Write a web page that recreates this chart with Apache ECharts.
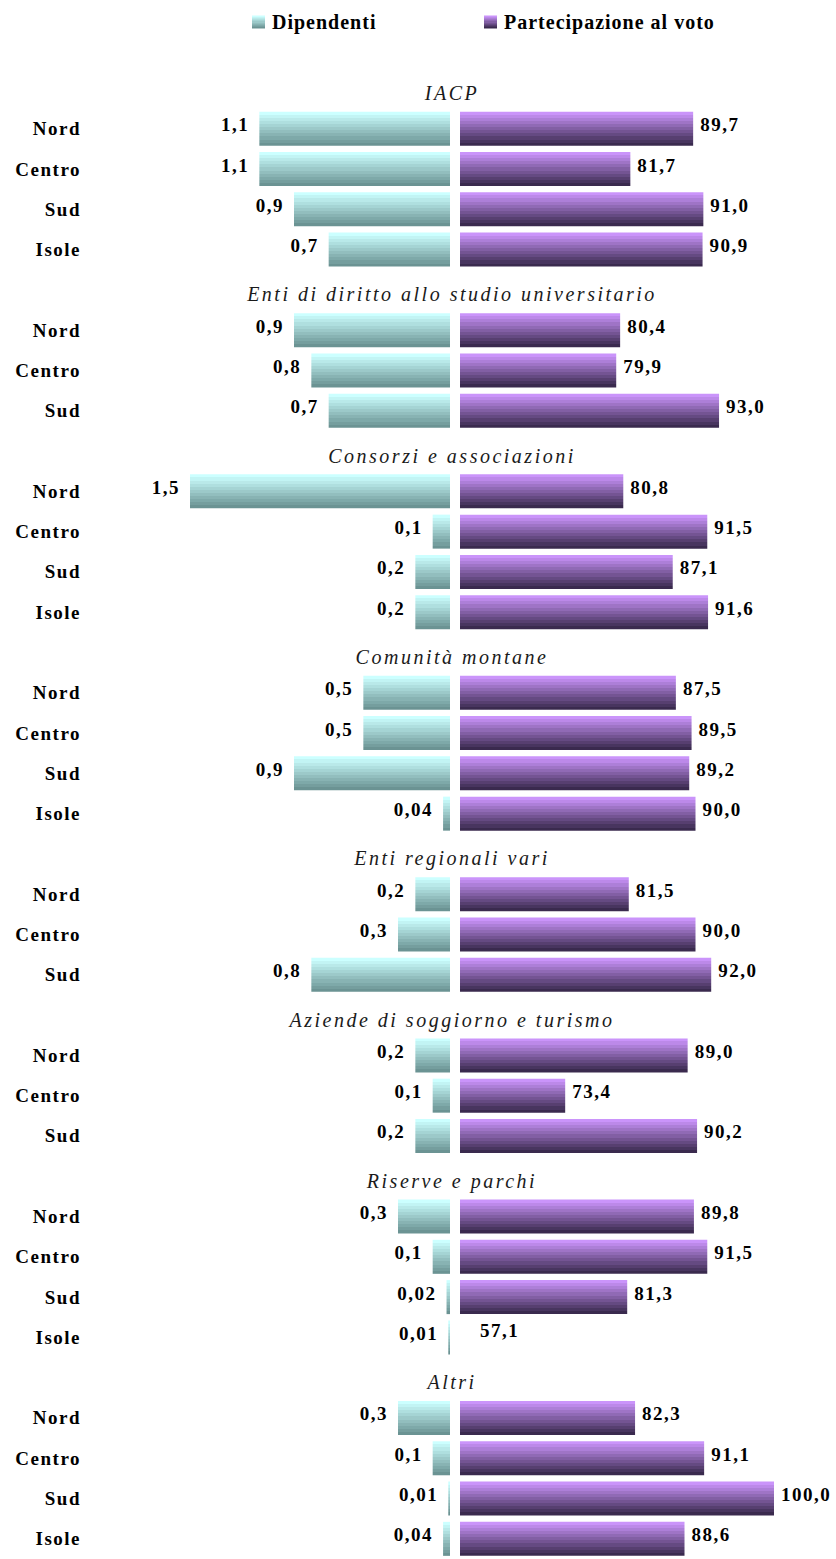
<!DOCTYPE html>
<html>
<head>
<meta charset="utf-8">
<script src="https://cdn.jsdelivr.net/npm/echarts@6/dist/echarts.min.js"></script>
<style>
html, body { margin: 0; padding: 0; background: #ffffff; }
#chart { width: 836px; height: 1559px; }
#chart text { letter-spacing: 1.5px; }
#chart text[style*="20px"] { letter-spacing: 1px; }
#chart text[style*="italic"] { letter-spacing: 2.5px; }
</style>
</head>
<body>
<div id="chart"></div>
<script>
// ---- data ----
const seriesNames = ['Dipendenti', 'Partecipazione al voto'];
const groups = [
  'IACP',
  'Enti di diritto allo studio universitario',
  'Consorzi e associazioni',
  'Comunità montane',
  'Enti regionali vari',
  'Aziende di soggiorno e turismo',
  'Riserve e parchi',
  'Altri'
];
const regions = [
  ['Nord', 'Centro', 'Sud', 'Isole'],
  ['Nord', 'Centro', 'Sud'],
  ['Nord', 'Centro', 'Sud', 'Isole'],
  ['Nord', 'Centro', 'Sud', 'Isole'],
  ['Nord', 'Centro', 'Sud'],
  ['Nord', 'Centro', 'Sud'],
  ['Nord', 'Centro', 'Sud', 'Isole'],
  ['Nord', 'Centro', 'Sud', 'Isole']
];
const dipendenti = [
  [1.1, 1.1, 0.9, 0.7],
  [0.9, 0.8, 0.7],
  [1.5, 0.1, 0.2, 0.2],
  [0.5, 0.5, 0.9, 0.04],
  [0.2, 0.3, 0.8],
  [0.2, 0.1, 0.2],
  [0.3, 0.1, 0.02, 0.01],
  [0.3, 0.1, 0.01, 0.04]
];
const partecipazione = [
  [89.7, 81.7, 91.0, 90.9],
  [80.4, 79.9, 93.0],
  [80.8, 91.5, 87.1, 91.6],
  [87.5, 89.5, 89.2, 90.0],
  [81.5, 90.0, 92.0],
  [89.0, 73.4, 90.2],
  [89.8, 91.5, 81.3, 57.1],
  [82.3, 91.1, 100.0, 88.6]
];

// ---- build rows (one slot per group title, then one per region) ----
const RIGHT_MIN = 60, RIGHT_MAX = 100;
const categories = [];
const dipData = [];
const partData = [];
groups.forEach(function (g, gi) {
  categories.push(g + '|');
  dipData.push(null);
  partData.push(null);
  regions[gi].forEach(function (r, ri) {
    categories.push(g + '|' + r);
    dipData.push(dipendenti[gi][ri]);
    const v = partecipazione[gi][ri];
    partData.push(v < RIGHT_MIN
      ? { value: v, itemStyle: { color: 'rgba(0,0,0,0)' }, label: { offset: [13, -7] } }
      : v);
  });
});

function fmt(v, d) { return v.toFixed(d).replace('.', ','); }

function bands(c1, c2, n) {
  const a = echarts.color.parse(c1), b = echarts.color.parse(c2);
  const stops = [];
  for (let i = 0; i < n; i++) {
    const t = n === 1 ? 0 : i / (n - 1);
    const c = 'rgb(' + [0, 1, 2].map(function (k) { return Math.round(a[k] + (b[k] - a[k]) * t); }).join(',') + ')';
    stops.push({ offset: i / n, color: c });
    stops.push({ offset: (i + 1) / n, color: c });
  }
  return new echarts.graphic.LinearGradient(0, 0, 0, 1, stops);
}

const SERIF = "'Liberation Serif', 'Times New Roman', serif";
const cyanGrad = bands('#ccffff', '#6b9393', 11);
const purpleGrad = bands('#ca94fa', '#3a2a4e', 11);

const chart = echarts.init(document.getElementById('chart'), null, { renderer: 'svg' });
const TOP = 68.3, H = 1496.7;

const legendText = { fontFamily: SERIF, fontWeight: 'bold', fontSize: 20, color: '#000', padding: [0, 0, 0, 2] };

chart.setOption({
  animation: false,
  backgroundColor: '#ffffff',
  legend: [
    { data: [seriesNames[0]], left: 252, top: 12, padding: 0, itemWidth: 13, itemHeight: 13,
      icon: 'rect', selectedMode: false, textStyle: legendText },
    { data: [seriesNames[1]], left: 484, top: 12, padding: 0, itemWidth: 13, itemHeight: 13,
      icon: 'rect', selectedMode: false, textStyle: legendText }
  ],
  grid: [
    { left: 190, width: 260, top: TOP, height: H, containLabel: false },
    { left: 460, width: 314, top: TOP, height: H, containLabel: false }
  ],
  xAxis: [
    { type: 'value', gridIndex: 0, inverse: true, min: 0, max: 1.5, show: false },
    { type: 'value', gridIndex: 1, min: RIGHT_MIN, max: RIGHT_MAX, startValue: RIGHT_MIN, show: false }
  ],
  yAxis: [
    {
      type: 'category', gridIndex: 0, inverse: true, data: categories,
      axisLine: { show: false }, axisTick: { show: false }, splitLine: { show: false },
      axisLabel: {
        interval: 0, margin: 109, fontFamily: SERIF, fontWeight: 'bold', fontSize: 19, color: '#000',
        formatter: function (v) { return v.split('|')[1]; }
      }
    },
    {
      type: 'category', gridIndex: 1, inverse: true, data: categories,
      axisLine: { show: false }, axisTick: { show: false }, splitLine: { show: false },
      axisLabel: {
        interval: 0, margin: 8, align: 'center', verticalAlign: 'top', lineHeight: 9,
        fontFamily: SERIF, fontStyle: 'italic', fontSize: 20, color: '#1a1a1a',
        formatter: function (v) { const p = v.split('|'); return p[1] === '' ? p[0] : ''; }
      }
    }
  ],
  series: [
    {
      name: seriesNames[0], type: 'bar', xAxisIndex: 0, yAxisIndex: 0,
      data: dipData, barWidth: 34,
      itemStyle: { color: cyanGrad },
      label: {
        show: true, position: 'left', distance: 10, offset: [0, -4],
        fontFamily: SERIF, fontWeight: 'bold', fontSize: 19, color: '#000',
        formatter: function (p) { return fmt(p.value, p.value < 0.1 ? 2 : 1); }
      }
    },
    {
      name: seriesNames[1], type: 'bar', xAxisIndex: 1, yAxisIndex: 1,
      data: partData, barWidth: 34, clip: false,
      itemStyle: { color: purpleGrad },
      label: {
        show: true, position: 'right', distance: 7, offset: [0, -4],
        fontFamily: SERIF, fontWeight: 'bold', fontSize: 19, color: '#000',
        formatter: function (p) { return fmt(p.value, 1); }
      }
    }
  ]
});
</script>
</body>
</html>
